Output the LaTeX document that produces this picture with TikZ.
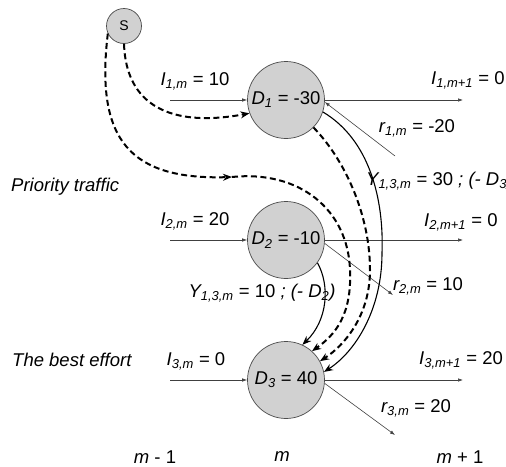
\documentclass[tikz,border=0pt]{standalone}
\usepackage{fontspec}
\setmainfont{Liberation Sans}
\usetikzlibrary{arrows.meta}
\newcommand\lo[1]{\textsubscript{\itshape #1}}
\newcommand\vi[1]{{\itshape #1}}
\begin{document}
\begin{tikzpicture}[x=1pt,y=-1pt,
  font=\fontsize{18.5}{22}\selectfont,
  dnode/.style={circle, draw=black!70, fill=black!18, line width=0.7pt, minimum size=77pt, inner sep=0pt},
  snode/.style={circle, draw=black!70, fill=black!18, line width=0.7pt, minimum size=35pt, inner sep=0pt, font=\fontsize{14}{16}\selectfont},
  flow/.style={draw=black!75, line width=0.6pt, -{Latex[length=5pt,width=3.5pt]}},
  dflow/.style={draw=black, line width=2pt, dash pattern=on 6pt off 3.5pt},
  sflow/.style={draw=black, line width=1.1pt},
  tip/.style={-{Stealth[length=9pt,width=7pt]}},
  lab/.style={inner sep=0pt}]
\useasboundingbox (0,0) rectangle (506,466);

\node[dnode] (D1) at (286,100) {\vi{D}\lo{1} = -30};
\node[dnode] (D2) at (286,240) {\vi{D}\lo{2} = -10};
\node[dnode] (D3) at (286,380) {\vi{D}\lo{3} = 40};
\node[snode] (S) at (124,26) {S};

\coordinate (i1) at (170,100); \coordinate (o1) at (463,100); \coordinate (r1) at (395,156);
\coordinate (i2) at (170,240); \coordinate (o2) at (463,240); \coordinate (r2) at (393,295);
\coordinate (i3) at (170,380); \coordinate (o3) at (463,380); \coordinate (r3) at (395,435);
\coordinate (bm) at (232,177);
\coordinate (p1) at (350,270);
\coordinate (p2) at (370,270);
\coordinate (p3) at (382,253);

% straight flows
\draw[flow] (i1) -- (D1);
\draw[flow] (D1) -- (o1);
\draw[flow] (r1) -- (D1.-3);
\draw[flow] (i2) -- (D2);
\draw[flow] (D2) -- (o2);
\draw[flow] (D2.-5) -- (r2);
\draw[flow] (i3) -- (D3);
\draw[flow] (D3) -- (o3);
\draw[flow] (D3.-5) -- (r3);

% dashed flows
\draw[dflow, tip] (S.south) .. controls (126,105) and (170,128) .. (D1.200);
\draw[dflow, tip] (S.205) .. controls (95,140) and (130,180) .. (bm);
\draw[dflow, tip] (bm) .. controls (300,170) and (348,210) .. (p1) .. controls (352,315) and (335,335) .. (D3.48);
\draw[dflow, tip] (D1.-45) .. controls (345,160) and (370,215) .. (p2) .. controls (370,315) and (345,345) .. (D3.29);

% solid flows
\draw[sflow, tip] (D1.-18) .. controls (370,140) and (384,200) .. (p3) .. controls (382,310) and (355,352) .. (D3.12);
\draw[sflow, tip] (D2.-36) .. controls (330,285) and (328,320) .. (D3.65);

% labels
\node[lab] (l1) at (195,81) {\vi{I}\lo{1,m} = 10};
\node[lab, anchor=west] (l1o) at (431,80) {\vi{I}\lo{1,m+1} = 0};
\node[lab] (lr1) at (417,128) {\vi{r}\lo{1,m} = -20};
\node[lab, anchor=west] (ly1) at (366,181) {\vi{Y}\lo{1,3,m} = 30 \vi{; (- D}\lo{3}\vi{)}};
\node[lab] (l2) at (195,221) {\vi{I}\lo{2,m} = 20};
\node[lab, anchor=west] (l2o) at (424,222) {\vi{I}\lo{2,m+1} = 0};
\node[lab] (lr2) at (428,286) {\vi{r}\lo{2,m} = 10};
\node[lab] (ly2) at (262,293) {\vi{Y}\lo{1,3,m} = 10 \vi{; (- D}\lo{2}\vi{)}};
\node[lab] (l3) at (196,361) {\vi{I}\lo{3,m} = 0};
\node[lab, anchor=west] (l3o) at (419,360) {\vi{I}\lo{3,m+1} = 20};
\node[lab] (lr3) at (416,408) {\vi{r}\lo{3,m} = 20};
\node[lab, anchor=west] (pt) at (11,187) {\vi{Priority traffic}};
\node[lab, anchor=west] (be) at (12,360) {\vi{The best effort}};
\node[lab] (m0) at (155,457) {\vi{m} - 1};
\node[lab] (m1) at (282,457) {\vi{m}};
\node[lab] (m2) at (460,457) {\vi{m} + 1};
\end{tikzpicture}
\end{document}
